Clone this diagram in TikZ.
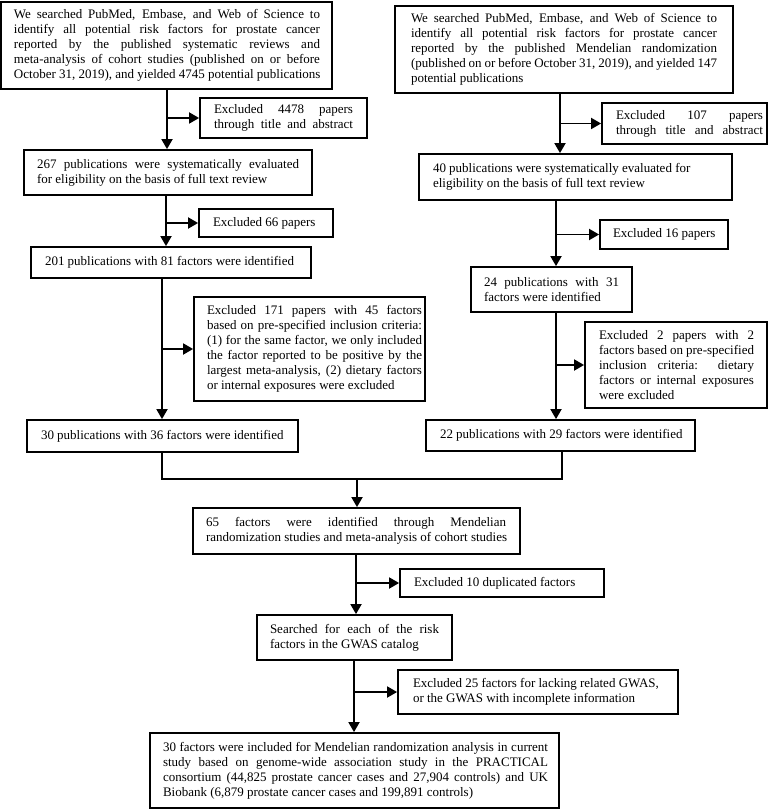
\documentclass[tikz,border=0pt]{standalone}
\usepackage{fontspec}
\setmainfont{Liberation Serif}
\usetikzlibrary{arrows.meta}
\newcommand{\jl}[1]{\makebox[\linewidth][s]{#1}}
\newcommand{\nl}[1]{\makebox[\linewidth][l]{#1}}
\newcommand{\cellbox}[4]{\makebox[#1pt][l]{\hspace*{#2pt}\parbox[c]{#3pt}{#4}}}
\newcommand{\cellone}[3]{\makebox[#1pt][l]{\hspace*{#2pt}#3}}
\begin{document}
\begin{tikzpicture}[x=1pt,y=-1pt,
  box/.style={draw, line width=1.8pt, inner sep=0pt, font=\fontsize{13}{15}\selectfont, anchor=center},
  arr/.style={line width=1.8pt, -{Triangle[length=10pt,width=11pt]}},
  ln/.style={line width=1.8pt, line join=miter}]
\useasboundingbox (0,0) rectangle (769,810);
% column coordinates
\coordinate (c1) at (167,0);
\coordinate (c2) at (166,0);
\coordinate (c3) at (162,0);
\coordinate (r1) at (560,0);
\coordinate (r2) at (556,0);
\coordinate (r3) at (562,0);
\coordinate (m)  at (357,479);
\coordinate (c4) at (356,0);
\coordinate (c5) at (354,0);

\node[box, minimum height=87pt] (tl) at (166.5,45.5) {\cellbox{331}{13}{306}{%
\jl{We searched PubMed, Embase, and Web of Science to}\\
\jl{identify all potential risk factors for prostate cancer}\\
\jl{reported by the published systematic reviews and}\\
\jl{meta-analysis of cohort studies (published on or before}\\
\nl{October 31, 2019), and yielded 4745 potential publications}}};

\node[box, minimum height=87pt] (tr) at (564,49.5) {\cellbox{338}{16}{306}{%
\jl{We searched PubMed, Embase, and Web of Science to}\\
\jl{identify all potential risk factors for prostate cancer}\\
\jl{reported by the published Mendelian randomization}\\
\jl{(published on or before October 31, 2019), and yielded 147}\\
\nl{potential publications}}};

\node[box, minimum height=40pt] (e4478) at (283.5,118) {\cellbox{167}{14}{139}{%
\jl{Excluded 4478 papers}\\
\jl{through title and abstract}}};

\node[box, minimum height=41pt] (e107) at (684.5,123.5) {\cellbox{165}{14}{147}{%
\jl{Excluded 107 papers}\\
\jl{through title and abstract}}};

\node[box, minimum height=45pt] (b267) at (168,172.5) {\cellbox{288}{13}{262}{%
\jl{267 publications were systematically evaluated}\\
\nl{for eligibility on the basis of full text review}}};

\node[box, minimum height=46pt] (b40) at (575.5,177) {\cellbox{313}{14}{285}{%
\nl{40 publications were systematically evaluated for}\\
\nl{eligibility on the basis of full text review}}};

\node[box, minimum height=28pt] (e66) at (266,223) {\cellone{134}{14}{Excluded 66 papers}};

\node[box, minimum height=29pt] (e16) at (664,234.5) {\cellone{128}{13}{Excluded 16 papers}};

\node[box, minimum height=31pt] (b201) at (171,262.5) {\cellone{280}{14}{201 publications with 81 factors were identified}};

\node[box, minimum height=45pt] (b24) at (551.5,289.5) {\cellbox{161}{13}{135}{%
\jl{24 publications with 31}\\
\nl{factors were identified}}};

\node[box, minimum height=104pt] (e171) at (309.5,349) {\cellbox{231}{13}{215}{%
\jl{Excluded 171 papers with 45 factors}\\
\jl{based on pre-specified inclusion criteria:}\\
\jl{(1) for the same factor, we only included}\\
\jl{the factor reported to be positive by the}\\
\jl{largest meta-analysis, (2) dietary factors}\\
\nl{or internal exposures were excluded}}};

\node[box, minimum height=86pt] (e2) at (676,365) {\cellbox{182}{14}{155}{%
\jl{Excluded 2 papers with 2}\\
\jl{factors based on pre-specified}\\
\jl{inclusion criteria: dietary}\\
\jl{factors or internal exposures}\\
\nl{were excluded}}};

\node[box, minimum height=32pt] (b30) at (162.5,436) {\cellone{271}{14}{30 publications with 36 factors were identified}};

\node[box, minimum height=31pt] (b22) at (560.5,435.5) {\cellone{269}{14}{22 publications with 29 factors were identified}};

\node[box, minimum height=46pt] (b65) at (356.5,531) {\cellbox{327}{13}{300}{%
\jl{65 factors were identified through Mendelian}\\
\nl{randomization studies and meta-analysis of cohort studies}}};

\node[box, minimum height=28pt] (e10) at (502,583) {\cellone{204}{14}{Excluded 10 duplicated factors}};

\node[box, minimum height=45pt] (srch) at (354.5,637.5) {\cellbox{195}{13}{169}{%
\jl{Searched for each of the risk}\\
\nl{factors in the GWAS catalog}}};

\node[box, minimum height=44pt] (e25) at (538,692) {\cellbox{280}{15}{254}{%
\nl{Excluded 25 factors for lacking related GWAS,}\\
\nl{or the GWAS with incomplete information}}};

\node[box, minimum height=75pt] (fin) at (354.5,770.5) {\cellbox{409}{13}{385}{%
\jl{30 factors were included for Mendelian randomization analysis in current}\\
\jl{study based on genome-wide association study in the PRACTICAL}\\
\jl{consortium (44,825 prostate cancer cases and 27,904 controls) and UK}\\
\nl{Biobank (6,879 prostate cancer cases and 199,891 controls)}}};

% left column
\draw[arr] (tl.south -| c1) -- (b267.north -| c1);
\draw[arr] (e4478.west -| c1) -- (e4478.west);
\draw[arr] (b267.south -| c2) -- (b201.north -| c2);
\draw[arr] (e66.west -| c2) -- (e66.west);
\draw[arr] (b201.south -| c3) -- (b30.north -| c3);
\draw[arr] (e171.west -| c3) -- (e171.west);
% right column
\draw[arr] (tr.south -| r1) -- (b40.north -| r1);
\draw[arr] (e107.west -| r1) -- (e107.west);
\draw[arr] (b40.south -| r2) -- (b24.north -| r2);
\draw[arr] (e16.west -| r2) -- (e16.west);
\draw[arr] (b24.south -| r2) -- (b22.north -| r2);
\draw[arr] (e2.west -| r2) -- (e2.west);
% merge
\draw[ln] (b30.south -| c3) |- (m) -| (b22.south -| r3);
\draw[arr] (m) -- (b65.north -| m);
% lower column
\draw[arr] (b65.south -| c4) -- (srch.north -| c4);
\draw[arr] (e10.west -| c4) -- (e10.west);
\draw[arr] (srch.south -| c5) -- (fin.north -| c5);
\draw[arr] (e25.west -| c5) -- (e25.west);
\end{tikzpicture}
\end{document}
